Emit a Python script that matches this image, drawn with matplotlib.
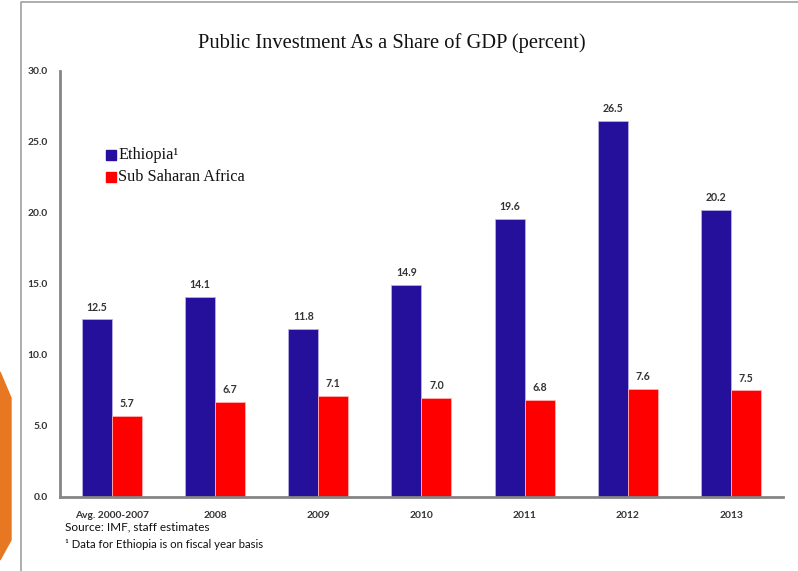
import matplotlib
matplotlib.use("Agg")
import matplotlib.pyplot as plt
from matplotlib.patches import Polygon, Rectangle
import numpy as np

categories = ["Avg. 2000-2007", "2008", "2009", "2010", "2011", "2012", "2013"]
ethiopia = [12.5, 14.1, 11.8, 14.9, 19.6, 26.5, 20.2]
ssa = [5.7, 6.7, 7.1, 7.0, 6.8, 7.6, 7.5]
yticks = [0.0, 5.0, 10.0, 15.0, 20.0, 25.0, 30.0]

blue = "#24109A"
red = "#FF0000"
axis_gray = "#858585"

fig = plt.figure(figsize=(7.98, 5.71), dpi=100)
ax = fig.add_axes([0.0752, 0.1296, 0.9058, 0.7461])

x = np.arange(len(categories))
w = 0.29
ax.bar(x - w / 2, ethiopia, w, color=blue, edgecolor="#B8B0E0", linewidth=0.6, zorder=2)
ax.bar(x + w / 2, ssa, w, color=red, edgecolor="#FFB0B0", linewidth=0.6, zorder=2)

lab_font = dict(family="Lato", fontsize=7.6, color="#333333", fontweight="bold")
tick_font = dict(family="Lato", fontsize=7.4, color="#333333", fontweight="bold")
for xi, v in zip(x, ethiopia):
    ax.annotate(f"{v:.1f}", (xi - w / 2, v), xytext=(0, 5), textcoords="offset points",
                ha="center", va="bottom", **lab_font)
for xi, v in zip(x, ssa):
    ax.annotate(f"{v:.1f}", (xi + w / 2, v), xytext=(0, 5), textcoords="offset points",
                ha="center", va="bottom", **lab_font)

ax.set_xlim(-0.5, len(categories) - 0.5)
ax.set_ylim(0, 30)
ax.set_yticks(yticks)
ax.set_yticklabels([f"{t:.1f}" for t in yticks], **tick_font)
ax.set_xticks(x)
ax.set_xticklabels(categories, **tick_font)
ax.tick_params(axis="x", length=0, pad=10)
ax.tick_params(axis="y", length=0, pad=9)
for s in ["top", "right"]:
    ax.spines[s].set_visible(False)
for s in ["left", "bottom"]:
    ax.spines[s].set_color(axis_gray)
    ax.spines[s].set_linewidth(2)

fig.text(0.491, 0.925, "Public Investment As a Share of GDP (percent)",
         family="Liberation Serif", fontsize=14.8, ha="center", va="center", color="#111111")

# legend
leg_font = dict(family="Liberation Serif", fontsize=11.7, color="#111111", va="center")
fig.patches.append(Rectangle((106 / 798, 1 - 160 / 571), 10 / 798, 10 / 571,
                             transform=fig.transFigure, color=blue))
fig.text(118 / 798, 1 - 155 / 571, "Ethiopia\u00b9", **leg_font)
fig.patches.append(Rectangle((106 / 798, 1 - 182 / 571), 10 / 798, 10 / 571,
                             transform=fig.transFigure, color=red))
fig.text(118 / 798, 1 - 177 / 571, "Sub Saharan Africa", **leg_font)

fig.text(65 / 798, 1 - 527 / 571, "Source: IMF, staff estimates",
         family="Lato", fontsize=8.5, va="center", color="#111111")
fig.text(65 / 798, 1 - 544 / 571, "\u00b9 Data for Ethiopia is on fiscal year basis",
         family="Lato", fontsize=8.2, va="center", color="#111111")

# slide frame
fig.lines.append(plt.Line2D([21 / 798, 21 / 798, 1.0], [0.0, 1 - 2 / 571, 1 - 2 / 571],
                            transform=fig.transFigure, color="#A0A0A0", linewidth=1.2))
# orange decoration
fig.patches.append(Polygon([(0, 1 - 372 / 571), (11 / 798, 1 - 398 / 571),
                            (11 / 798, 1 - 540 / 571), (0, 1 - 560 / 571)],
                           closed=True, transform=fig.transFigure, color="#E87722"))

fig.savefig("out.png", dpi=100)
